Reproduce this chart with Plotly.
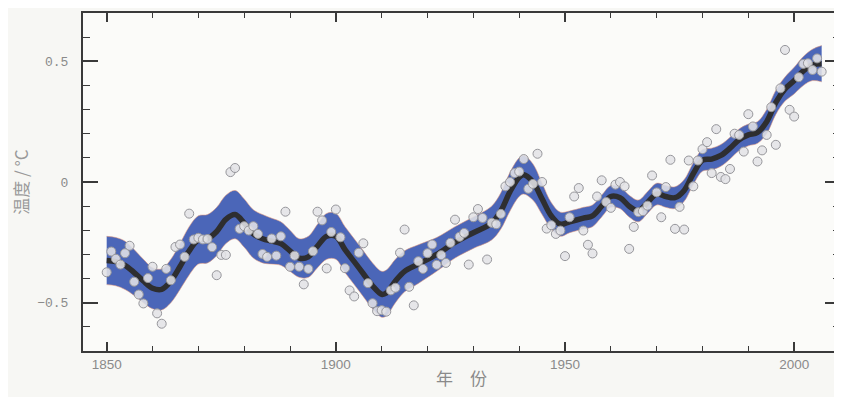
import plotly.graph_objects as go

# ---- annual temperature anomalies (points) ----
years = list(range(1850, 2007))
anomaly = [
    -0.374, -0.288, -0.318, -0.342, -0.295, -0.264, -0.413, -0.466, -0.503, -0.398,  # 1850-1859
    -0.351, -0.544, -0.587, -0.360, -0.407, -0.269, -0.259, -0.310, -0.131, -0.238,  # 1860-1869
    -0.231, -0.238, -0.236, -0.270, -0.386, -0.302, -0.302, 0.041, 0.058, -0.194,    # 1870-1879
    -0.183, -0.201, -0.183, -0.215, -0.298, -0.310, -0.234, -0.305, -0.225, -0.123,  # 1880-1889
    -0.351, -0.305, -0.351, -0.424, -0.360, -0.287, -0.123, -0.159, -0.358, -0.207,  # 1890-1899
    -0.114, -0.229, -0.357, -0.449, -0.474, -0.293, -0.254, -0.419, -0.502, -0.535,  # 1900-1909
    -0.531, -0.537, -0.449, -0.438, -0.293, -0.197, -0.434, -0.511, -0.328, -0.360,  # 1910-1919
    -0.295, -0.259, -0.343, -0.303, -0.335, -0.252, -0.156, -0.227, -0.211, -0.342,  # 1920-1929
    -0.146, -0.112, -0.149, -0.321, -0.169, -0.175, -0.132, -0.018, 0.000, 0.037,    # 1930-1939
    0.043, 0.095, -0.028, -0.008, 0.117, 0.000, -0.193, -0.179, -0.215, -0.201,      # 1940-1949
    -0.307, -0.146, -0.060, -0.025, -0.201, -0.260, -0.296, -0.060, 0.007, -0.083,   # 1950-1959
    -0.107, -0.011, 0.000, -0.018, -0.277, -0.186, -0.125, -0.121, -0.098, 0.027,    # 1960-1969
    -0.043, -0.146, -0.021, 0.092, -0.194, -0.103, -0.197, 0.089, -0.018, 0.089,     # 1970-1979
    0.136, 0.165, 0.037, 0.219, 0.021, 0.012, 0.054, 0.200, 0.195, 0.126,            # 1980-1989
    0.281, 0.230, 0.085, 0.131, 0.195, 0.310, 0.154, 0.388, 0.547, 0.299,            # 1990-1999
    0.271, 0.434, 0.489, 0.492, 0.464, 0.512, 0.457,                                 # 2000-2006
]

# ---- smoothed curve and its uncertainty half-width ----
smooth_years = [1850, 1852, 1854, 1856, 1858, 1860, 1862, 1864, 1866, 1868,
                1870, 1872, 1874, 1876, 1878, 1880, 1882, 1884, 1886, 1888,
                1890, 1892, 1894, 1896, 1898, 1900, 1902, 1904, 1906, 1908,
                1910, 1911, 1913, 1915, 1918, 1922, 1926, 1930, 1934, 1936,
                1938, 1940, 1941, 1943, 1945, 1947, 1949, 1951, 1954, 1956,
                1958, 1960, 1962, 1964, 1966, 1968, 1970, 1972, 1974, 1976,
                1978, 1980, 1982, 1984, 1986, 1988, 1990, 1992, 1994, 1996,
                1998, 2000, 2002, 2004, 2006]
smooth_values = [-0.325, -0.33, -0.345, -0.375, -0.41, -0.44, -0.445, -0.41, -0.35, -0.285,
                 -0.24, -0.235, -0.205, -0.155, -0.135, -0.17, -0.215, -0.235, -0.245, -0.255,
                 -0.285, -0.315, -0.31, -0.265, -0.225, -0.225, -0.28, -0.33, -0.38, -0.43,
                 -0.465, -0.46, -0.41, -0.37, -0.34, -0.30, -0.25, -0.21, -0.17, -0.12,
                 -0.04, 0.02, 0.03, 0.00, -0.07, -0.14, -0.175, -0.165, -0.15, -0.14,
                 -0.10, -0.06, -0.065, -0.10, -0.12, -0.085, -0.05, -0.06, -0.065, -0.035,
                 0.035, 0.09, 0.095, 0.11, 0.14, 0.175, 0.195, 0.205, 0.25, 0.33,
                 0.385, 0.42, 0.46, 0.485, 0.49]
band_half = [0.10, 0.10, 0.10, 0.095, 0.09, 0.085, 0.085, 0.09, 0.095, 0.10,
             0.10, 0.10, 0.10, 0.10, 0.10, 0.10, 0.10, 0.10, 0.095, 0.09,
             0.085, 0.08, 0.085, 0.09, 0.095, 0.095, 0.095, 0.095, 0.095, 0.095,
             0.095, 0.095, 0.09, 0.085, 0.08, 0.07, 0.065, 0.065, 0.07, 0.075,
             0.08, 0.08, 0.08, 0.075, 0.065, 0.055, 0.05, 0.045, 0.045, 0.045,
             0.045, 0.045, 0.045, 0.045, 0.045, 0.045, 0.045, 0.045, 0.045, 0.045,
             0.045, 0.045, 0.045, 0.045, 0.045, 0.045, 0.045, 0.045, 0.05, 0.05,
             0.05, 0.055, 0.06, 0.065, 0.075]

x_tick_vals = [1850, 1900, 1950, 2000]
x_tick_text = ["1850", "1900", "1950", "2000"]
y_tick_vals = [-0.5, 0, 0.5]
y_tick_text = ["\u22120.5", "0", "0.5"]

upper = [v + h for v, h in zip(smooth_values, band_half)]
lower = [v - h for v, h in zip(smooth_values, band_half)]

band_color = "#4b66b8"
edge_color = "rgba(225,150,120,0.55)"

fig = go.Figure()
fig.add_trace(go.Scatter(x=smooth_years, y=lower, mode="lines",
                         line=dict(color=edge_color, width=1, shape="spline"),
                         hoverinfo="skip", showlegend=False))
fig.add_trace(go.Scatter(x=smooth_years, y=upper, mode="lines",
                         line=dict(color=edge_color, width=1, shape="spline"),
                         fill="tonexty", fillcolor=band_color,
                         hoverinfo="skip", showlegend=False))
fig.add_trace(go.Scatter(x=smooth_years, y=smooth_values, mode="lines",
                         line=dict(color="#2e2e30", width=5.5, shape="spline"),
                         showlegend=False))
fig.add_trace(go.Scatter(x=years, y=anomaly, mode="markers",
                         marker=dict(size=9, color="rgba(226,226,230,0.88)",
                                     line=dict(color="rgba(150,150,155,1)", width=1)),
                         showlegend=False))

axis_color = "#3a3a3a"
# the page body adds an 8 px offset, so the figure is sized to fill the rest of the window
fig.update_layout(
    width=834, height=389,
    margin=dict(l=75, r=2, t=5, b=46, autoexpand=False),
    paper_bgcolor="#f7f7f4",
    plot_bgcolor="#fbfbf9",
    font=dict(family="Liberation Sans, Arial, sans-serif", color="#8a8a8a"),
)
fig.update_xaxes(
    automargin=False,
    range=[1844.83, 2010.0],
    tickvals=x_tick_vals, ticktext=x_tick_text,
    ticks="inside", ticklen=9, tickwidth=1.5, tickcolor=axis_color,
    minor=dict(dtick=10, tick0=1850, ticks="inside", ticklen=5, tickwidth=1.2, tickcolor=axis_color),
    showline=True, linecolor=axis_color, linewidth=2, mirror="allticks",
    showgrid=False, zeroline=False,
    tickfont=dict(size=13.5, color="#8a8a8a"),
    ticklabelstandoff=0,
    title=dict(text="年\u3000份", font=dict(size=17, color="#8a8a8a",
                                            family="Noto Sans CJK SC, sans-serif"), standoff=2),
)
fig.update_yaxes(
    automargin=False,
    range=[-0.7, 0.7],
    tickvals=y_tick_vals, ticktext=y_tick_text,
    ticks="inside", ticklen=15, tickwidth=1.5, tickcolor=axis_color,
    minor=dict(dtick=0.1, tick0=0, ticks="inside", ticklen=7, tickwidth=1.2, tickcolor=axis_color),
    showline=True, linecolor=axis_color, linewidth=2, mirror="allticks",
    showgrid=False, zeroline=False,
    tickfont=dict(size=13, color="#8a8a8a", family="Liberation Mono, monospace"),
    ticklabelstandoff=10,
    title=dict(text="温度 / °C", font=dict(size=17, color="#9a9a9a",
                                          family="Noto Sans CJK SC, sans-serif"), standoff=12),
)

fig.write_html("out.html")
